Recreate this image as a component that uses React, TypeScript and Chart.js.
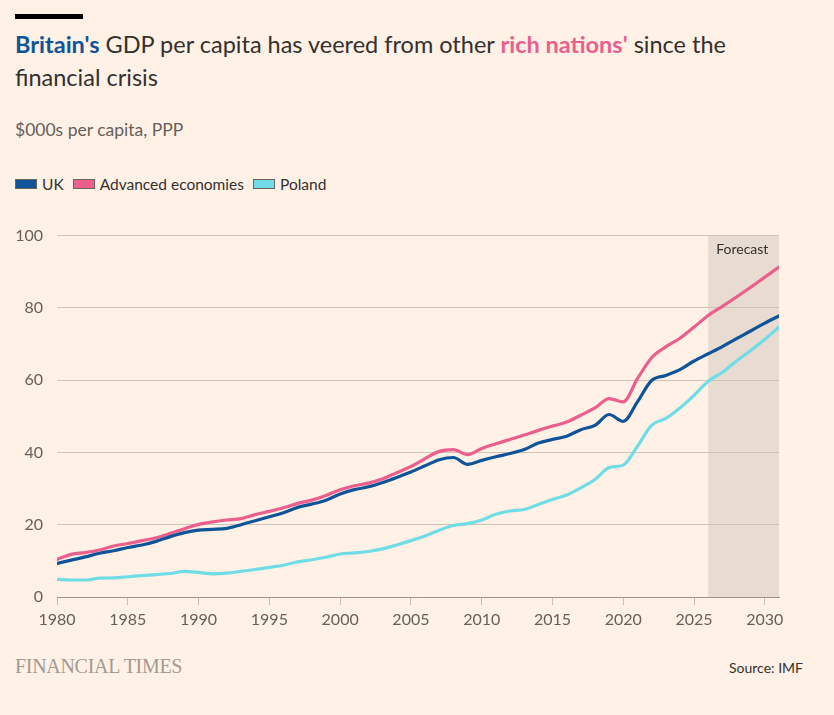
import React, { useEffect, useRef } from "react";
import { Chart, registerables } from "chart.js";

Chart.register(...registerables);

const years = [
  1980, 1981, 1982, 1983, 1984, 1985, 1986, 1987, 1988, 1989,
  1990, 1991, 1992, 1993, 1994, 1995, 1996, 1997, 1998, 1999,
  2000, 2001, 2002, 2003, 2004, 2005, 2006, 2007, 2008, 2009,
  2010, 2011, 2012, 2013, 2014, 2015, 2016, 2017, 2018, 2019,
  2020, 2021, 2022, 2023, 2024, 2025, 2026, 2027, 2028, 2029,
  2030, 2031,
];

const ukValues = [
  9.3, 10.2, 11.1, 12.1, 12.8, 13.7, 14.4, 15.4, 16.7, 17.8,
  18.5, 18.7, 19.0, 20.0, 21.1, 22.2, 23.3, 24.8, 25.7, 26.8,
  28.5, 29.7, 30.5, 31.7, 33.1, 34.6, 36.3, 38.0, 38.6, 36.7,
  37.8, 38.8, 39.7, 40.8, 42.6, 43.6, 44.5, 46.3, 47.5, 50.5,
  48.6, 54.0, 59.9, 61.3, 62.9, 65.3, 67.3, 69.3, 71.5, 73.6,
  75.8, 77.8,
];

const advancedValues = [
  10.4, 11.8, 12.3, 13.0, 14.1, 14.8, 15.6, 16.4, 17.6, 18.9,
  20.1, 20.8, 21.3, 21.7, 22.8, 23.7, 24.7, 25.9, 26.8, 28.1,
  29.7, 30.8, 31.5, 32.7, 34.4, 36.1, 38.3, 40.3, 40.8, 39.4,
  41.1, 42.4, 43.6, 44.8, 46.1, 47.3, 48.4, 50.3, 52.3, 54.9,
  54.0, 60.4, 66.2, 69.2, 71.6, 74.7, 77.9, 80.4, 83.0, 85.7,
  88.5, 91.3,
];

const polandValues = [
  4.9, 4.7, 4.7, 5.2, 5.3, 5.6, 5.9, 6.2, 6.5, 7.1,
  6.8, 6.4, 6.6, 7.1, 7.6, 8.2, 8.8, 9.7, 10.3, 11.0,
  11.9, 12.2, 12.6, 13.3, 14.4, 15.6, 16.9, 18.5, 19.8, 20.3,
  21.3, 22.9, 23.8, 24.2, 25.6, 27.0, 28.2, 30.2, 32.5, 35.8,
  36.5, 41.7, 47.5, 49.4, 52.3, 55.8, 59.7, 62.2, 65.3, 68.2,
  71.3, 74.7,
];

const xTickValues = [1980, 1985, 1990, 1995, 2000, 2005, 2010, 2015, 2020, 2025, 2030];
const yTickValues = [0, 20, 40, 60, 80, 100];
const forecastStart = 2026;
const forecastLabel = "Forecast";

const seriesNames = ["UK", "Advanced economies", "Poland"];
const seriesColors = ["#0f5499", "#eb5f8d", "#70dde6"];

const FONT = "Lato, 'Noto Sans', sans-serif";
const BG = "#fff1e5";

const forecastPlugin = {
  id: "forecastShade",
  beforeDraw(chart: any) {
    const { ctx, chartArea, scales } = chart;
    const x0 = scales.x.getPixelForValue(forecastStart);
    ctx.save();
    ctx.fillStyle = "#e8dbd1";
    ctx.fillRect(x0, chartArea.top, chartArea.right - x0, chartArea.bottom - chartArea.top);
    ctx.fillStyle = "#33302e";
    ctx.font = `14px ${FONT}`;
    ctx.textBaseline = "middle";
    ctx.textAlign = "left";
    ctx.fillText(forecastLabel, x0 + 8, chartArea.top + 14);
    ctx.restore();
  },
};

export default function App() {
  const canvasRef = useRef<HTMLCanvasElement | null>(null);

  useEffect(() => {
    const canvas = canvasRef.current;
    if (!canvas) return;
    const mk = (vals: number[]) => years.map((y, i) => ({ x: y, y: vals[i] }));
    const datasets = [ukValues, advancedValues, polandValues].map((vals, i) => ({
      label: seriesNames[i],
      data: mk(vals),
      borderColor: seriesColors[i],
      backgroundColor: seriesColors[i],
      borderWidth: 3.2,
      pointRadius: 0,
      tension: 0.4,
      cubicInterpolationMode: "monotone" as const,
      borderCapStyle: "round" as const,
      borderJoinStyle: "round" as const,
    }));
    const ordered = [datasets[2], datasets[0], datasets[1]];

    const chart = new Chart(canvas, {
      type: "line",
      data: { datasets: ordered },
      options: {
        animation: false,
        responsive: false,
        maintainAspectRatio: false,
        layout: { padding: { top: 10, right: 55, left: 0, bottom: 0 } },
        plugins: {
          legend: { display: false },
          tooltip: { enabled: false },
        },
        scales: {
          x: {
            type: "linear",
            min: 1980,
            max: 2031,
            afterBuildTicks: (scale: any) => {
              scale.ticks = xTickValues.map((v) => ({ value: v }));
            },
            afterFit: (scale: any) => {
              scale.height = 49;
            },
            border: { display: true, color: "#9d948c", width: 1 },
            grid: {
              display: true,
              drawOnChartArea: false,
              drawTicks: true,
              tickLength: 8,
              color: "#c9bdb2",
            },
            ticks: {
              color: "#66605c",
              font: { family: FONT, size: 16 },
              padding: 5,
              maxRotation: 0,
              autoSkip: false,
              callback: (v: any) => String(v),
            },
          },
          y: {
            type: "linear",
            min: 0,
            max: 100,
            afterBuildTicks: (scale: any) => {
              scale.ticks = yTickValues.map((v) => ({ value: v }));
            },
            afterFit: (scale: any) => {
              scale.width = 57;
            },
            border: { display: false },
            grid: {
              color: "#cfc3b8",
              drawTicks: false,
              lineWidth: 1,
            },
            ticks: {
              color: "#66605c",
              font: { family: FONT, size: 16 },
              padding: 14,
              callback: (v: any) => String(v),
            },
          },
        },
      },
      plugins: [forecastPlugin],
    });
    return () => chart.destroy();
  }, []);

  const legendItem = (name: string, color: string) => (
    <span key={name} style={{ display: "inline-flex", alignItems: "center", marginRight: 9 }}>
      <span
        style={{
          display: "inline-block",
          width: 20,
          height: 8,
          background: color,
          border: "1px solid #6b6561",
          marginRight: 5,
        }}
      />
      <span>{name}</span>
    </span>
  );

  return (
    <div
      style={{
        position: "absolute",
        left: 0,
        top: 0,
        width: 834,
        height: 715,
        background: BG,
        fontFamily: FONT,
        overflow: "hidden",
      }}
    >
      <div style={{ position: "absolute", left: 15, top: 14, width: 68, height: 5, background: "#000" }} />
      <div
        style={{
          position: "absolute",
          left: 15,
          top: 28,
          fontSize: 23.5,
          lineHeight: "33px",
          color: "#33302e",
          whiteSpace: "nowrap",
        }}
      >
        <span style={{ color: "#0f5499", fontWeight: 700 }}>Britain's</span> GDP per capita has veered from other{" "}
        <span style={{ color: "#eb5f8d", fontWeight: 700 }}>rich nations'</span> since the
        <br />
        financial crisis
      </div>
      <div
        style={{
          position: "absolute",
          left: 15,
          top: 119,
          fontSize: 17.5,
          color: "#66605c",
          whiteSpace: "nowrap",
        }}
      >
        $000s per capita, PPP
      </div>
      <div
        style={{
          position: "absolute",
          left: 15,
          top: 175,
          fontSize: 15.5,
          color: "#33302e",
          display: "flex",
          alignItems: "center",
          whiteSpace: "nowrap",
        }}
      >
        {seriesNames.map((n, i) => legendItem(n, seriesColors[i]))}
      </div>
      <canvas
        ref={canvasRef}
        width={834}
        height={434}
        style={{ position: "absolute", left: 0, top: 212, width: 834, height: 434 }}
      />
      <div
        style={{
          position: "absolute",
          left: 15,
          top: 655,
          fontFamily: "'Liberation Serif', 'DejaVu Serif', serif",
          fontSize: 20,
          color: "#a39a92",
          letterSpacing: -0.3,
          whiteSpace: "nowrap",
        }}
      >
        FINANCIAL TIMES
      </div>
      <div
        style={{
          position: "absolute",
          right: 31,
          top: 659,
          fontSize: 14,
          color: "#33302e",
          whiteSpace: "nowrap",
        }}
      >
        Source: IMF
      </div>
    </div>
  );
}
